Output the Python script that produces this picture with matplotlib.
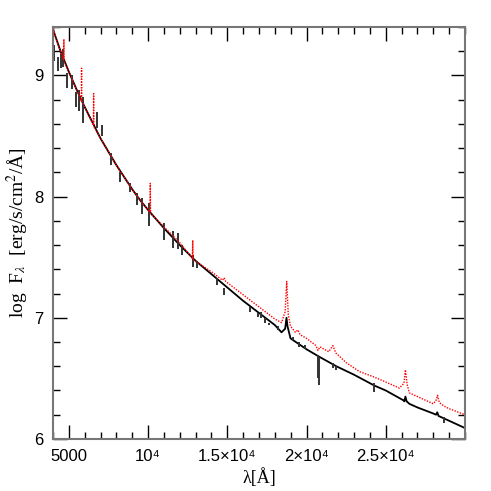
import matplotlib.pyplot as plt
from matplotlib.ticker import MultipleLocator, FixedLocator, FixedFormatter

# continuum + features (wavelength in A, log F_lambda)
black_wl = [4000, 4500, 5000, 5500, 6000, 6500, 7000, 7500, 8000, 8500, 9000, 9500,
            10000, 11000, 12000, 13000, 14000, 15000, 16000, 17000, 18000, 18420,
            18650, 18735, 18800, 18990, 20000, 20780, 21880, 23000, 24290, 25000,
            26100, 26175, 26240, 26320, 26490, 27000, 28000, 28170, 28250, 28330,
            29000, 30000]
black_flux = [9.38, 9.19, 9.03, 8.88, 8.74, 8.61, 8.48, 8.37, 8.26, 8.16, 8.06, 7.97,
              7.89, 7.74, 7.60, 7.47, 7.36, 7.25, 7.14, 7.04, 6.94, 6.88,
              6.91, 7.00, 6.93, 6.83, 6.74, 6.68, 6.60, 6.53, 6.44, 6.40,
              6.32, 6.31, 6.35, 6.31, 6.29, 6.26, 6.21, 6.20, 6.22, 6.19,
              6.15, 6.09]

red_wl = [4000, 4500, 4670, 4686, 4700, 5000, 5500, 5785, 5801, 5815, 6000, 6550,
          6563, 6576, 7000, 7500, 8000, 8500, 9000, 9500, 10000, 10120, 10138,
          10155, 11000, 12000, 12800, 12818, 12836, 14000, 14700, 14800, 14900,
          15000, 16000, 17000, 18000, 18420, 18650, 18750, 18850, 18990, 19300,
          19450, 19600, 20000, 20600, 20720, 20850, 21400, 21660, 21850, 22500,
          23350, 24290, 25000, 25860, 26150, 26240, 26350, 26490, 27000, 28000,
          28180, 28270, 28380, 28690, 29000, 30000]
red_flux = [9.38, 9.19, 9.13, 9.30, 9.12, 9.03, 8.88, 8.79, 9.06, 8.78, 8.74, 8.59,
            8.85, 8.58, 8.48, 8.37, 8.26, 8.16, 8.06, 7.97, 7.89, 7.87, 8.11,
            7.86, 7.75, 7.62, 7.49, 7.64, 7.48, 7.38, 7.31, 7.33, 7.30,
            7.29, 7.19, 7.09, 6.99, 6.96, 7.05, 7.30, 7.02, 6.93, 6.88,
            6.90, 6.86, 6.83, 6.77, 6.73, 6.76, 6.72, 6.77, 6.71, 6.63,
            6.555, 6.51, 6.47, 6.42, 6.46, 6.57, 6.45, 6.38, 6.35, 6.29,
            6.32, 6.36, 6.30, 6.27, 6.25, 6.20]

# absorption lines on the black spectrum: wavelength, upper and lower end
line_wl = [4057, 4308, 4478, 4648, 4855, 5214, 5421, 5629, 5906, 6786, 7100, 7685,
           8251, 8880, 9302, 9616, 10075, 10974, 11603, 11918, 12132, 12823, 13075,
           14370, 14792, 16427, 16949, 17100, 17370, 17641, 18169, 19150, 19527,
           19886, 20703, 20798, 21666, 21880, 24288, 28690]
line_top = [9.25, 9.15, 9.18, 9.22, 9.02, 9.00, 8.86, 8.88, 8.82, 8.70, 8.59, 8.36,
            8.20, 8.11, 8.03, 7.99, 7.945, 7.78, 7.72, 7.70, 7.60, 7.52, 7.46,
            7.33, 7.25, 7.09, 7.04, 7.05, 7.00, 6.96, 6.93, 6.84, 6.80,
            6.775, 6.69, 6.68, 6.63, 6.60, 6.46, 6.18]
line_bot = [9.12, 9.04, 9.06, 9.07, 8.90, 8.89, 8.74, 8.71, 8.61, 8.57, 8.50, 8.26,
            8.12, 8.04, 7.93, 7.86, 7.76, 7.64, 7.58, 7.57, 7.52, 7.42, 7.41,
            7.27, 7.19, 7.05, 7.005, 7.00, 6.96, 6.94, 6.90, 6.82, 6.76,
            6.74, 6.50, 6.445, 6.585, 6.57, 6.39, 6.13]

xticks = [5000, 10000, 15000, 20000, 25000]
xticklabels = ["5000", "10\u2074", "1.5\u00d710\u2074", "2\u00d710\u2074", "2.5\u00d710\u2074"]

plt.rcParams["mathtext.fontset"] = "stix"

fig = plt.figure(figsize=(4.91, 4.91), dpi=100)
ax = fig.add_axes([0.108, 0.106, 0.839, 0.839])

ax.plot(black_wl, black_flux, color="black", linewidth=1.3, zorder=2)
ax.vlines(line_wl, line_bot, line_top, color="#333333", linewidth=1.4, zorder=2)
ax.plot(red_wl, red_flux, color="red", linestyle=(0, (1, 1)), linewidth=1.0, zorder=3)

ax.set_xlim(4000, 30000)
ax.set_ylim(6, 9.4)

ax.xaxis.set_major_locator(FixedLocator(xticks))
ax.xaxis.set_major_formatter(FixedFormatter(xticklabels))
ax.xaxis.set_minor_locator(MultipleLocator(1000))
ax.yaxis.set_major_locator(MultipleLocator(1))
ax.yaxis.set_minor_locator(MultipleLocator(0.2))

ax.tick_params(which="both", direction="in", top=True, right=True, color="black")
ax.tick_params(which="major", length=10, width=1.0, labelsize=12, pad=7)
ax.tick_params(which="minor", length=5, width=1.0)
for lab in ax.get_xticklabels() + ax.get_yticklabels():
    lab.set_family(["Liberation Sans", "DejaVu Sans"])

for s in ax.spines.values():
    s.set_color("#777777")
    s.set_linewidth(1.5)

ax.set_xlabel("\u03bb[\u00c5]", family="Liberation Serif", fontsize=13, labelpad=3)
ax.set_ylabel("log  F$_\\lambda$  [erg/s/cm$^2$/\u00c5]", family="Liberation Serif",
              fontsize=14, labelpad=2)

fig.savefig("out.png", dpi=100)
